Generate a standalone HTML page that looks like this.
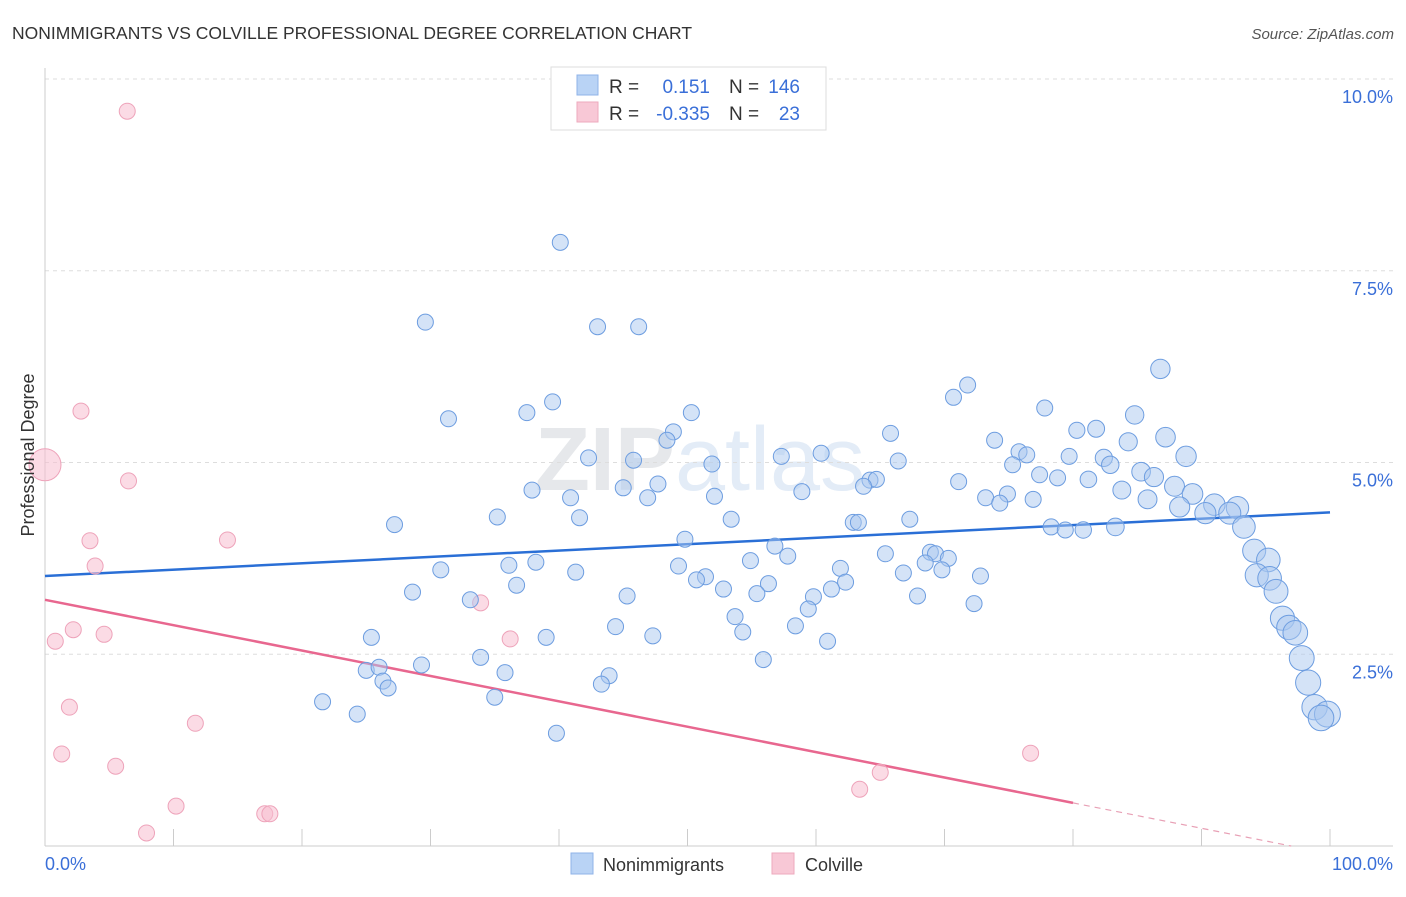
<!DOCTYPE html>
<html><head><meta charset="utf-8"><style>
body{margin:0;background:#fff;font-family:"Liberation Sans",sans-serif;}
svg text{font-family:"Liberation Sans",sans-serif;}
</style></head><body>
<svg id="chart" width="1406" height="892" viewBox="0 0 1406 892">
<text x="12" y="39" font-size="17.5" fill="#333">NONIMMIGRANTS VS COLVILLE PROFESSIONAL DEGREE CORRELATION CHART</text>
<text x="1394" y="39" font-size="15" fill="#555" text-anchor="end" font-style="italic">Source: ZipAtlas.com</text>
<text x="700" y="490" font-size="90" fill="#eceef1" text-anchor="middle" font-family="Liberation Serif"><tspan font-weight="bold" fill="#e6e8eb">ZIP</tspan><tspan fill="#e3ecf7">atlas</tspan></text>
<g id="grid"></g><g id="axes"></g><g id="lines"></g><g id="pts"></g>
<text transform="translate(34,455) rotate(-90)" font-size="18" fill="#333" text-anchor="middle">Professional Degree</text>
<g>
<rect x="551" y="67" width="275" height="63" fill="#fff" stroke="#ddd"/>
<rect x="577" y="75" width="21" height="20" fill="#b9d3f5" stroke="#8fb3e8"/>
<rect x="577" y="102" width="21" height="20" fill="#f8c8d6" stroke="#eeaabd"/>
<text x="609" y="93" font-size="19" fill="#333">R =</text><text x="710" y="93" font-size="19" fill="#3a6fd8" text-anchor="end">0.151</text>
<text x="729" y="93" font-size="19" fill="#333">N =</text><text x="800" y="93" font-size="19" fill="#3a6fd8" text-anchor="end">146</text>
<text x="609" y="120" font-size="19" fill="#333">R =</text><text x="710" y="120" font-size="19" fill="#3a6fd8" text-anchor="end">-0.335</text>
<text x="729" y="120" font-size="19" fill="#333">N =</text><text x="800" y="120" font-size="19" fill="#3a6fd8" text-anchor="end">23</text>
</g>
<g>
<rect x="571" y="853" width="22" height="21" fill="#b9d3f5" stroke="#8fb3e8"/>
<text x="603" y="871" font-size="18" fill="#333">Nonimmigrants</text>
<rect x="772" y="853" width="22" height="21" fill="#f8c8d6" stroke="#eeaabd"/>
<text x="805" y="871" font-size="18" fill="#333">Colville</text>
</g>
</svg>
<script>
const blueX=[40.1,29.6,43.0,46.2,86.8,71.8,70.7,77.8,39.5,37.5,50.3,31.4,84.8,80.3,81.8,65.8,48.9,48.4,73.9,87.2,84.3,75.8,76.4,60.4,79.7,82.4,88.8,42.3,45.8,57.3,66.4,51.9,75.3,82.9,85.3,77.4,78.8,81.2,86.3,87.9,64.2,64.7,71.1,63.7,47.7,45.0,37.9,58.9,83.8,89.3,74.9,52.1,40.9,46.9,73.2,76.9,85.8,74.3,88.3,91.0,92.8,90.3,92.2,35.2,41.6,53.4,67.3,62.9,63.3,93.3,27.2,78.3,79.4,80.8,83.3,49.8,56.8,94.1,57.8,65.4,68.9,69.3,38.2,36.1,54.9,70.3,95.2,68.5,61.9,49.3,30.8,41.3,69.8,94.3,66.8,72.8,51.4,50.7,95.3,62.3,36.7,56.3,52.8,61.2,28.6,95.8,55.4,45.3,67.9,33.1,59.8,72.3,59.4,53.7,96.3,58.4,44.4,96.8,97.3,54.3,25.4,39.0,47.3,60.9,97.8,55.9,33.9,29.3,25.0,26.0,43.9,35.8,26.3,26.7,43.3,98.3,21.6,35.0,98.8,24.3,99.8,99.3,39.8];
const blueY=[7.87,6.83,6.77,6.77,6.22,6.01,5.85,5.71,5.79,5.65,5.65,5.57,5.62,5.42,5.44,5.38,5.40,5.29,5.29,5.33,5.27,5.14,5.10,5.12,5.08,5.06,5.08,5.06,5.03,5.08,5.02,4.98,4.97,4.97,4.88,4.84,4.80,4.78,4.81,4.69,4.77,4.78,4.75,4.69,4.72,4.67,4.64,4.62,4.64,4.59,4.59,4.56,4.54,4.54,4.54,4.52,4.52,4.47,4.42,4.45,4.41,4.34,4.34,4.29,4.28,4.26,4.26,4.22,4.22,4.16,4.19,4.16,4.12,4.12,4.16,4.0,3.91,3.85,3.78,3.81,3.83,3.81,3.70,3.66,3.72,3.75,3.73,3.69,3.62,3.65,3.60,3.57,3.60,3.53,3.56,3.52,3.51,3.47,3.49,3.44,3.40,3.42,3.35,3.35,3.31,3.32,3.29,3.26,3.26,3.21,3.25,3.16,3.09,2.99,2.97,2.87,2.86,2.85,2.78,2.79,2.72,2.72,2.74,2.67,2.45,2.43,2.46,2.36,2.29,2.33,2.22,2.26,2.15,2.06,2.11,2.13,1.88,1.94,1.81,1.72,1.72,1.67,1.47];
const pinkX=[6.4,2.8,0,6.5,3.5,14.2,3.9,33.9,2.2,4.6,0.8,36.2,1.9,11.7,1.3,76.7,5.5,65.0,63.4,10.2,17.1,17.5,7.9];
const pinkY=[9.58,5.67,4.97,4.76,3.98,3.99,3.65,3.17,2.82,2.76,2.67,2.70,1.81,1.60,1.20,1.21,1.04,0.96,0.74,0.52,0.42,0.42,0.17];
const yTicks=[2.5,5.0,7.5,10.0];
const xTickVals=[0,10,20,30,40,50,60,70,80,90,100];
const blueTrend=[3.52,4.35];
const pinkTrend=[3.21,-0.0331];
const pinkSolidEnd=80;
const NS='http://www.w3.org/2000/svg';
const X=v=>45+v*12.85, Y=v=>846-v*76.7;
function mk(tag,parent,attrs){const e=document.createElementNS(NS,tag);for(const k in attrs)e.setAttribute(k,attrs[k]);document.getElementById(parent).appendChild(e);return e;}
yTicks.forEach(t=>{
 const l=mk('line','grid',{x1:45,x2:1393,y1:Y(t),y2:Y(t),stroke:'#ddd','stroke-dasharray':'4,4'});
 
 
 const tx=mk('text','grid',{x:1393,y:Y(t)+24,'font-size':18,fill:'#3a6fd8','text-anchor':'end'});
 tx.textContent=t.toFixed(1)+'%';
 
 
});
const ya=mk('line','axes',{x1:45,x2:45,y1:68,y2:846,stroke:'#ccc'});


const xa=mk('line','axes',{x1:45,x2:1393,y1:846,y2:846,stroke:'#ccc'});


xTickVals.forEach(v=>{
 const t=mk('line','axes',{x1:X(v),x2:X(v),y1:829,y2:846,stroke:'#ccc'});
 
 
});
const xl0=mk('text','axes',{x:45,y:870,'font-size':18,fill:'#3a6fd8'});xl0.textContent='0.0%';


const xl1=mk('text','axes',{x:1393,y:870,'font-size':18,fill:'#3a6fd8','text-anchor':'end'});xl1.textContent='100.0%';


pinkX.forEach((x,i)=>{
 const c=mk('circle','pts',{cx:X(x),cy:Y(pinkY[i]),r:x===0?16:8,fill:'rgba(248,190,208,0.55)',stroke:'#eea3ba','stroke-width':1});
 
 
});
blueX.forEach((x,i)=>{
 const r=8+Math.max(0,x-80)*0.25;
 const c=mk('circle','pts',{cx:X(x),cy:Y(blueY[i]),r:r,fill:'rgba(170,200,240,0.5)',stroke:'#6d9de0','stroke-width':1});
 
 
});
const bl=mk('line','lines',{x1:X(0),y1:Y(blueTrend[0]),x2:X(100),y2:Y(blueTrend[1]),stroke:'#2a6fd6','stroke-width':2.5});


const pf=v=>pinkTrend[0]+pinkTrend[1]*v;
const pl=mk('line','lines',{x1:X(0),y1:Y(pf(0)),x2:X(pinkSolidEnd),y2:Y(pf(pinkSolidEnd)),stroke:'#e8678f','stroke-width':2.5});


const zeroX=-pinkTrend[0]/pinkTrend[1];
const pd=mk('line','lines',{x1:X(pinkSolidEnd),y1:Y(pf(pinkSolidEnd)),x2:X(zeroX),y2:Y(0),stroke:'#e8a0b5','stroke-width':1.2,'stroke-dasharray':'6,5'});


</script>
</body></html>
